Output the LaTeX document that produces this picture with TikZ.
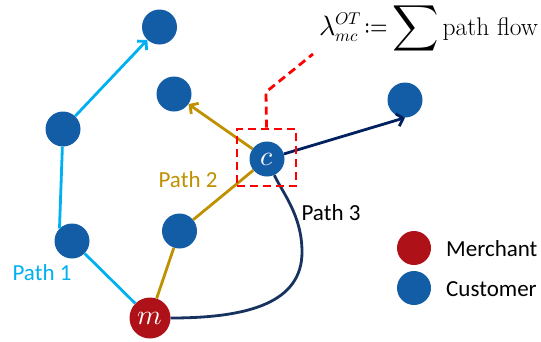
\documentclass[tikz,border=0pt]{standalone}
\usepackage{amsmath}
\usepackage{graphicx}
\usepackage{fontspec}
\usepackage{unicode-math}
\setmathfont{Latin Modern Math}
\setsansfont{Carlito}
\usetikzlibrary{arrows.meta}
\definecolor{nodeblue}{RGB}{18,93,166}
\definecolor{merchred}{RGB}{174,17,24}
\definecolor{pathcyan}{RGB}{0,176,240}
\definecolor{pathgold}{RGB}{191,144,0}
\definecolor{pathnavy}{RGB}{24,50,96}
\definecolor{arrnavy}{RGB}{0,32,96}
\newcommand{\scr}[1]{\text{\fontsize{17}{17}\selectfont$#1$}}
\begin{document}
\begin{tikzpicture}[x=1pt,y=-1pt,
  cust/.style={circle,fill=nodeblue,minimum size=35pt,inner sep=0pt,text=white,font=\fontsize{28}{28}\selectfont},
  merch/.style={circle,fill=merchred,minimum size=41pt,inner sep=0pt,text=white,font=\fontsize{28}{28}\selectfont},
  edge/.style={line width=2.8pt},
  tipa/.style={-{Straight Barb[length=6pt,width=13pt]}},
  lbl/.style={font=\sffamily\fontsize{23}{23}\selectfont},
  reddash/.style={draw=red,line width=2.8pt,dash pattern=on 8pt off 5pt}
]
\useasboundingbox (0,0) rectangle (541,341);
% nodes
\node[cust] (t) at (159.5,27) {};
\node[cust] (n1) at (63,129) {};
\node[cust] (n2) at (72,241) {};
\node[cust] (u) at (174,94) {};
\node[cust] (c) at (267,159) {$c$};
\node[cust] (r) at (405,100) {};
\node[cust] (k) at (179.5,231) {};
\node[merch] (m) at (150,318) {$m$};
% path 1
\draw[edge,pathcyan] (m) -- (n2);
\draw[edge,pathcyan] (n2.135) -- (n1);
\draw[edge,pathcyan,tipa] (n1) -- (t);
% path 2
\draw[edge,pathgold] (m) -- (k);
\draw[edge,pathgold] (k) -- (c);
\draw[edge,pathgold,tipa] (c) -- (u);
% path 3
\coordinate (bulge) at (302,252);
\draw[edge,pathnavy] (m) .. controls (250,318) and (302,302) .. (bulge)
  .. controls (302,215) and (282,192) .. (c);
\draw[edge,arrnavy,tipa] (c) -- (r.south);
% red box
\node[reddash,minimum width=59pt,minimum height=57pt,inner sep=0pt] (box) at (266.5,157.5) {};
\coordinate (bend) at (266,92);
\coordinate (lead) at (313,54);
\draw[reddash] (box.north) -- (bend) -- (lead);
% formula
\node[anchor=base west,inner sep=0pt,font=\fontsize{28}{32}\selectfont] (formula) at (319,35)
  {$\lambda^{\scr{OT}}_{\scr{mc}}\mkern2mu\mathord{\scalebox{0.8}[1]{$:=$}}\mkern3mu\vcenter{\hbox{\scalebox{1.15}{$\displaystyle\sum$}}}\mkern2mu\text{\fontsize{25.5}{28}\selectfont path flow}$};
% labels
\node[lbl,text=pathcyan] (l1) at (42,273) {Path 1};
\node[lbl,text=pathgold] (l2) at (188,180) {Path 2};
\node[lbl,text=black] (l3) at (331,213) {Path 3};
% legend
\node[merch,minimum size=34pt] (lm) at (414,248) {};
\node[cust,minimum size=34pt] (lc) at (414,288) {};
\node[lbl,anchor=west,inner sep=0pt] (tm) at (446,249) {Merchant};
\node[lbl,anchor=west,inner sep=0pt] (tc) at (446,289) {Customer};
\end{tikzpicture}
\end{document}
